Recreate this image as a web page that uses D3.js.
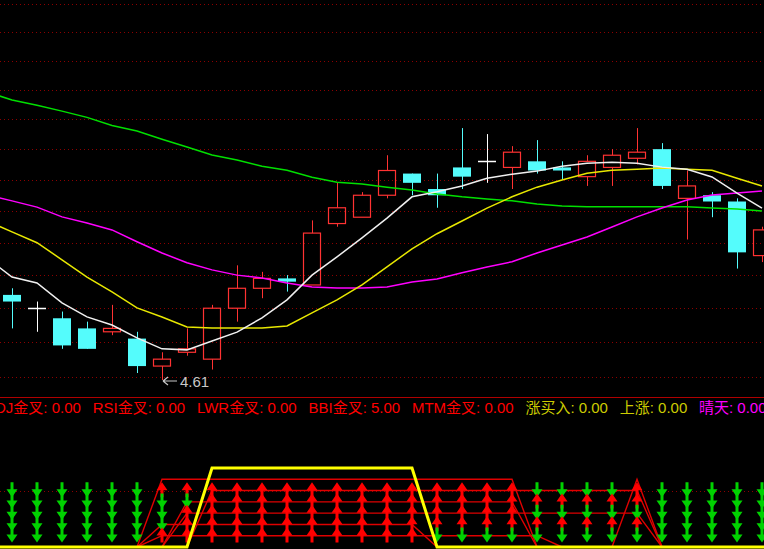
<!DOCTYPE html>
<html>
<head>
<meta charset="utf-8">
<script src="https://cdn.jsdelivr.net/npm/d3@7/dist/d3.min.js"></script>
<style>
html,body{margin:0;padding:0;background:#000;overflow:hidden}
svg{display:block}
</style>
</head>
<body>
<svg id="chart" width="764" height="549"></svg>
<script>
// ---------- DATA ----------
// trading-day index of each visible candle
const bars = d3.range(31);

const open  = [4.86,4.82,4.79,4.76,4.75,4.73,4.65,4.69,4.67,4.82,4.88,4.91,4.89,5.08,5.10,5.17,5.24,5.19,5.26,5.28,5.26,5.28,5.26,5.23,5.26,5.29,5.32,5.16,5.17,5.15,4.98];
const high  = [4.88,4.84,4.81,4.78,4.83,4.75,4.69,4.76,4.83,4.95,4.93,4.92,5.09,5.21,5.18,5.30,5.24,5.24,5.39,5.37,5.33,5.35,5.28,5.30,5.32,5.39,5.34,5.25,5.18,5.16,5.07];
const low   = [4.76,4.75,4.70,4.70,4.74,4.63,4.61,4.68,4.64,4.78,4.85,4.87,4.89,5.07,5.10,5.16,5.17,5.13,5.19,5.21,5.19,5.24,5.22,5.20,5.20,5.27,5.19,5.03,5.10,4.94,4.96];
const close = [4.84,4.82,4.71,4.70,4.76,4.65,4.67,4.70,4.82,4.88,4.91,4.90,5.05,5.13,5.17,5.25,5.21,5.17,5.23,5.28,5.31,5.25,5.25,5.28,5.30,5.31,5.20,5.20,5.15,4.99,5.06];

// moving averages, first value belongs to the bar just left of the window
const ma5  = [4.973,4.914,4.896,4.836,4.794,4.770,4.732,4.700,4.697,4.723,4.749,4.791,4.845,4.920,4.976,5.035,5.097,5.165,5.181,5.200,5.225,5.238,5.248,5.264,5.274,5.277,5.274,5.261,5.254,5.229,5.177,5.129];
const ma10 = [5.088,5.054,5.020,4.967,4.914,4.869,4.821,4.794,4.764,4.761,4.761,4.761,4.767,4.806,4.845,4.890,4.945,5.001,5.048,5.088,5.129,5.165,5.196,5.219,5.241,5.251,5.254,5.258,5.254,5.251,5.225,5.200];
const ma20 = [5.171,5.152,5.132,5.101,5.082,5.060,5.023,4.988,4.958,4.936,4.920,4.911,4.896,4.884,4.881,4.881,4.884,4.899,4.908,4.927,4.945,4.961,4.988,5.013,5.038,5.069,5.101,5.129,5.155,5.171,5.177,5.184];
const ma60 = [5.512,5.485,5.467,5.447,5.426,5.399,5.380,5.353,5.327,5.301,5.284,5.264,5.251,5.228,5.212,5.206,5.196,5.187,5.174,5.165,5.158,5.152,5.142,5.136,5.133,5.133,5.133,5.133,5.133,5.129,5.126,5.120];

// price grid levels
const gridPrices = [4.62,4.72,4.82,4.92,5.02,5.12,5.22,5.32,5.42,5.52,5.62,5.72,5.82];

// lowest price marker
const lowLabel = "4.61";

// lower panel: signal states (1 = on) per bar, levels 6..1
const sig6 = [0,0,0,0,0,0,1,1,1,1,1,1,1,1,1,1,1,1,1,1,1,0,0,0,0,1,0,0,0,0,0];
const sig5 = [0,0,0,0,0,0,0,0,1,1,1,1,1,1,1,1,1,1,1,1,1,1,1,1,1,1,0,0,0,0,0];
const sig4 = [0,0,0,0,0,0,0,1,1,1,1,1,1,1,1,1,1,1,1,1,1,0,0,0,0,0,0,0,0,0,0];
const sig3 = [0,0,0,0,0,0,0,1,1,1,1,1,1,1,1,1,1,1,1,1,1,1,1,1,1,1,0,0,0,0,0];
const sig2 = [0,0,0,0,0,0,1,1,1,1,1,1,1,1,1,1,1,0,0,0,0,0,0,0,0,0,0,0,0,0,0];
const sig1 = [0,0,0,0,0,0,1,1,1,1,1,1,1,1,1,1,1,1,1,1,1,1,0,0,0,0,0,0,0,0,0];
const riseSig = [0,0,0,0,0,0,0,0,1,1,1,1,1,1,1,1,1,0,0,0,0,0,0,0,0,0,0,0,0,0,0];
const sigLevels = [6,5,4,3,2,1];
const riseLevel = 7;
const bbiLevel = 5;

// indicator legend
const legendNames  = ["KDJ金叉","RSI金叉","LWR金叉","BBI金叉","MTM金叉","涨买入","上涨","晴天"];
const legendValues = [0,0,0,5,0,0,0,0];

// ---------- LAYOUT / STYLE ----------
const W = 764, H = 549;
const legendColors = ["#ff0000","#ff0000","#ff0000","#ff0000","#ff0000","#cccc00","#cccc00","#ff00ff"];
const FONT = "'Liberation Sans', Arial, 'Noto Sans CJK SC', sans-serif";

const svg = d3.select("#chart");
svg.append("rect").attr("width", W).attr("height", H).attr("fill", "#000");

const x = d3.scaleLinear().domain([0, 30]).range([12, 762]);
const y = d3.scaleLog().domain([4.61, 5.82]).range([380, 4.4]);
const yl = d3.scaleLinear().domain([0, 7]).range([547, 468]);
const half = 9;
const px = v => Math.round(v) + 0.5;

// grid lines (main)
svg.append("g").selectAll("line").data(gridPrices).join("line")
  .attr("x1", 0).attr("x2", W)
  .attr("y1", d => px(y(d))).attr("y2", d => px(y(d)))
  .attr("stroke", "#8c0000").attr("stroke-width", 1)
  .attr("stroke-dasharray", "1,3");

// candles
const cg = svg.append("g");
const UP = "#ff3232", DOWN = "#54fcfc", FLAT = "#ffffff";
bars.forEach(i => {
  const o = open[i], h = high[i], l = low[i], c = close[i];
  const cx = px(x(i));
  if (c > o) {
    cg.append("line").attr("x1", cx).attr("x2", cx)
      .attr("y1", y(h)).attr("y2", y(c)).attr("stroke", UP);
    cg.append("line").attr("x1", cx).attr("x2", cx)
      .attr("y1", y(o)).attr("y2", y(l)).attr("stroke", UP);
    cg.append("rect").attr("x", cx - half).attr("y", y(c))
      .attr("width", 2 * half - 1).attr("height", y(o) - y(c))
      .attr("fill", "none").attr("stroke", UP).attr("stroke-width", 1.2);
  } else if (c < o) {
    cg.append("line").attr("x1", cx).attr("x2", cx)
      .attr("y1", y(h)).attr("y2", y(l)).attr("stroke", DOWN);
    cg.append("rect").attr("x", cx - half - 0.5).attr("y", y(o))
      .attr("width", 2 * half).attr("height", Math.max(1.5, y(c) - y(o)))
      .attr("fill", DOWN);
  } else {
    cg.append("line").attr("x1", cx).attr("x2", cx)
      .attr("y1", y(h)).attr("y2", y(l)).attr("stroke", FLAT);
    cg.append("line").attr("x1", cx - half - 0.5).attr("x2", cx + half - 0.5)
      .attr("y1", px(y(o))).attr("y2", px(y(o))).attr("stroke", FLAT).attr("stroke-width", 1.5);
  }
});

// moving averages
const maLine = d3.line().x((d, i) => x(i - 1)).y(d => y(d));
[[ma60, "#00e000"], [ma20, "#ff00ff"], [ma10, "#e8e800"], [ma5, "#f0f0f0"]].forEach(([arr, col]) => {
  svg.append("path").attr("d", maLine(arr)).attr("fill", "none")
    .attr("stroke", col).attr("stroke-width", 1.5);
});

// lowest price marker
const iLow = d3.minIndex(low);
const lx = x(iLow) + 1, ly = y(low[iLow]) + 1;
svg.append("path")
  .attr("d", `M${lx},${ly} L${lx + 14},${ly} M${lx},${ly} L${lx + 5},${ly - 4} M${lx},${ly} L${lx + 5},${ly + 4}`)
  .attr("stroke", "#c8c8c8").attr("stroke-width", 1.2).attr("fill", "none");
svg.append("text").attr("x", lx + 17).attr("y", ly + 6)
  .attr("fill", "#c8c8c8").attr("font-family", FONT).attr("font-size", 15)
  .text(lowLabel);

// separator
svg.append("line").attr("x1", 0).attr("x2", W).attr("y1", 397.5).attr("y2", 397.5)
  .attr("stroke", "#b00000").attr("stroke-width", 1);

// legend: flowing layout, first item partly off the left edge, last starting near x=699
const legendStart = -15, lastStart = 699;
const lt = legendNames.map((n, k) =>
  svg.append("text").attr("y", 413)
    .attr("fill", legendColors[k]).attr("font-family", FONT).attr("font-size", 15)
    .text(`${n}: ${legendValues[k].toFixed(2)}`));
const widths = lt.map(t => t.node().getComputedTextLength());
const gap = (lastStart - legendStart - d3.sum(widths.slice(0, -1))) / (lt.length - 1);
let cur = legendStart;
lt.forEach((t, k) => { t.attr("x", cur); cur += widths[k] + gap; });

// lower panel
const lg = svg.append("g");
// BBI constant dotted level
lg.append("line").attr("x1", 0).attr("x2", W)
  .attr("y1", px(yl(bbiLevel))).attr("y2", px(yl(bbiLevel)))
  .attr("stroke", "#8c0000").attr("stroke-dasharray", "1,3");

const sigs = [sig6, sig5, sig4, sig3, sig2, sig1];
const sigLine = d3.line().x(d => x(d.i)).y(d => yl(d.v));
sigs.forEach((s, k) => {
  const pts = [{i: -1, v: 0}].concat(s.map((v, i) => ({i, v: v * sigLevels[k]}))).concat([{i: 31, v: 0}]);
  lg.append("path").attr("d", sigLine(pts)).attr("fill", "none")
    .attr("stroke", "#e00000").attr("stroke-width", 1.4);
});

// arrows for the five arrowed signals (levels 6..2)
const RED = "#ff0000", GREEN = "#00d200";
bars.forEach(i => {
  const cx = x(i);
  for (let k = 0; k < 5; k++) {
    const top = yl(sigLevels[k]) + 3;
    const on = sigs[k][i] === 1;
    let d;
    if (on) {
      d = `M${cx},${top} L${cx + 5.5},${top + 8} L${cx + 1.5},${top + 8} L${cx + 1.5},${top + 15} L${cx - 1.5},${top + 15} L${cx - 1.5},${top + 8} L${cx - 5.5},${top + 8} Z`;
    } else {
      d = `M${cx - 1.5},${top} L${cx + 1.5},${top} L${cx + 1.5},${top + 7} L${cx + 5.5},${top + 7} L${cx},${top + 15} L${cx - 5.5},${top + 7} L${cx - 1.5},${top + 7} Z`;
    }
    lg.append("path").attr("d", d).attr("fill", on ? RED : GREEN);
  }
});

// rise signal (yellow)
const risePts = [{i: -1, v: 0}].concat(riseSig.map((v, i) => ({i, v: v * riseLevel}))).concat([{i: 31, v: 0}]);
lg.append("path").attr("d", sigLine(risePts)).attr("fill", "none")
  .attr("stroke", "#ffff00").attr("stroke-width", 3);
</script>
</body>
</html>
